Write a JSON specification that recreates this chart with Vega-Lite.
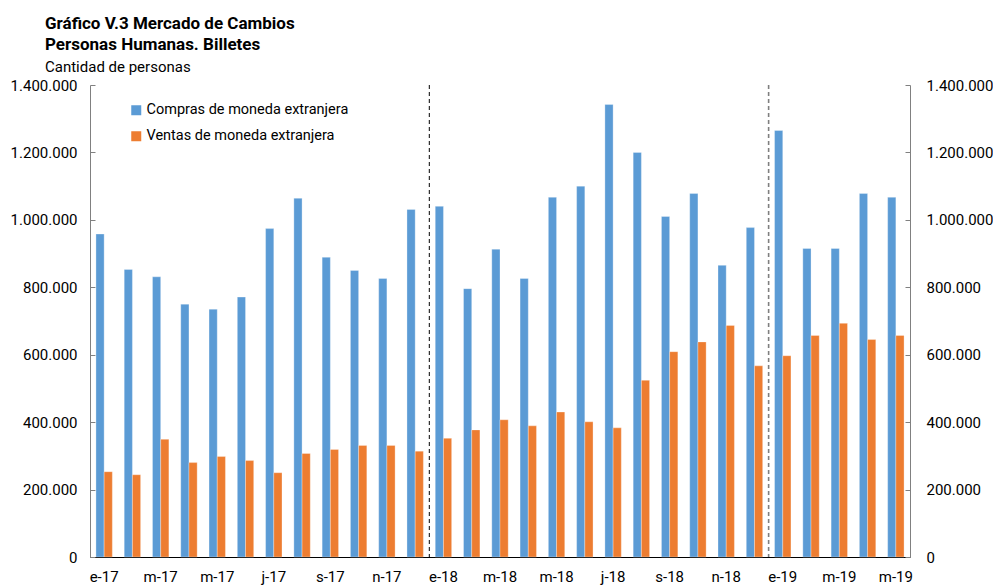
{
  "$schema": "https://vega.github.io/schema/vega-lite/v6.json",
  "width": 820,
  "height": 472,
  "autosize": {"type": "none"},
  "padding": {"left": 90, "top": 85, "right": 83, "bottom": 29},
  "background": "white",
  "title": {
    "text": ["Gráfico V.3 Mercado de Cambios", "Personas Humanas. Billetes"],
    "subtitle": "Cantidad de personas",
    "anchor": "start",
    "frame": "group",
    "dx": -45,
    "offset": 2,
    "font": "Roboto",
    "fontSize": 17,
    "fontWeight": "bold",
    "lineHeight": 21,
    "color": "#000000",
    "subtitleFont": "Roboto",
    "subtitleFontSize": 15,
    "subtitleColor": "#000000",
    "subtitlePadding": 6
  },
  "config": {
    "locale": {"number": {"decimal": ",", "thousands": ".", "grouping": [3], "currency": ["$", ""]}},
    "view": {"stroke": null},
    "font": "Roboto",
    "axis": {"labelFont": "Roboto", "labelFontSize": 15, "labelColor": "#000000", "grid": false, "title": null}
  },
  "datasets": {
    "meses": [
      {"fecha": "2017-01", "Compras de moneda extranjera": 958000, "Ventas de moneda extranjera": 253000},
      {"fecha": "2017-02", "Compras de moneda extranjera": 853000, "Ventas de moneda extranjera": 244000},
      {"fecha": "2017-03", "Compras de moneda extranjera": 831000, "Ventas de moneda extranjera": 349000},
      {"fecha": "2017-04", "Compras de moneda extranjera": 750000, "Ventas de moneda extranjera": 280000},
      {"fecha": "2017-05", "Compras de moneda extranjera": 735000, "Ventas de moneda extranjera": 298000},
      {"fecha": "2017-06", "Compras de moneda extranjera": 771000, "Ventas de moneda extranjera": 286000},
      {"fecha": "2017-07", "Compras de moneda extranjera": 974000, "Ventas de moneda extranjera": 250000},
      {"fecha": "2017-08", "Compras de moneda extranjera": 1064000, "Ventas de moneda extranjera": 307000},
      {"fecha": "2017-09", "Compras de moneda extranjera": 889000, "Ventas de moneda extranjera": 319000},
      {"fecha": "2017-10", "Compras de moneda extranjera": 850000, "Ventas de moneda extranjera": 331000},
      {"fecha": "2017-11", "Compras de moneda extranjera": 826000, "Ventas de moneda extranjera": 331000},
      {"fecha": "2017-12", "Compras de moneda extranjera": 1031000, "Ventas de moneda extranjera": 314000},
      {"fecha": "2018-01", "Compras de moneda extranjera": 1040000, "Ventas de moneda extranjera": 352000},
      {"fecha": "2018-02", "Compras de moneda extranjera": 796000, "Ventas de moneda extranjera": 377000},
      {"fecha": "2018-03", "Compras de moneda extranjera": 913000, "Ventas de moneda extranjera": 407000},
      {"fecha": "2018-04", "Compras de moneda extranjera": 826000, "Ventas de moneda extranjera": 389000},
      {"fecha": "2018-05", "Compras de moneda extranjera": 1067000, "Ventas de moneda extranjera": 430000},
      {"fecha": "2018-06", "Compras de moneda extranjera": 1100000, "Ventas de moneda extranjera": 401000},
      {"fecha": "2018-07", "Compras de moneda extranjera": 1342000, "Ventas de moneda extranjera": 383000},
      {"fecha": "2018-08", "Compras de moneda extranjera": 1200000, "Ventas de moneda extranjera": 524000},
      {"fecha": "2018-09", "Compras de moneda extranjera": 1010000, "Ventas de moneda extranjera": 609000},
      {"fecha": "2018-10", "Compras de moneda extranjera": 1078000, "Ventas de moneda extranjera": 638000},
      {"fecha": "2018-11", "Compras de moneda extranjera": 865000, "Ventas de moneda extranjera": 687000},
      {"fecha": "2018-12", "Compras de moneda extranjera": 977000, "Ventas de moneda extranjera": 567000},
      {"fecha": "2019-01", "Compras de moneda extranjera": 1265000, "Ventas de moneda extranjera": 597000},
      {"fecha": "2019-02", "Compras de moneda extranjera": 915000, "Ventas de moneda extranjera": 657000},
      {"fecha": "2019-03", "Compras de moneda extranjera": 915000, "Ventas de moneda extranjera": 693000},
      {"fecha": "2019-04", "Compras de moneda extranjera": 1078000, "Ventas de moneda extranjera": 645000},
      {"fecha": "2019-05", "Compras de moneda extranjera": 1067000, "Ventas de moneda extranjera": 657000}
    ],
    "corte1": [{"fecha": "2018-01"}],
    "corte2": [{"fecha": "2019-01"}]
  },
  "encoding": {
    "x": {
      "field": "fecha",
      "type": "ordinal",
      "scale": {"paddingInner": 0.42, "paddingOuter": 0.21},
      "axis": {
        "labelAngle": 0,
        "tickSize": 0,
        "labelPadding": 12,
        "domainColor": "#000000",
        "domainWidth": 1,
        "labelExpr": "(toNumber(slice(datum.value,5,7)) % 2 == 1) ? (['e','f','m','a','m','j','j','a','s','o','n','d'][toNumber(slice(datum.value,5,7))-1] + '-' + slice(datum.value,2,4)) : ''"
      }
    }
  },
  "layer": [
    {
      "data": {"name": "meses"},
      "transform": [{"fold": ["Compras de moneda extranjera", "Ventas de moneda extranjera"], "as": ["serie", "valor"]}],
      "mark": {"type": "bar", "stroke": "#ffffff", "strokeOpacity": 0.5, "strokeWidth": 0.6},
      "encoding": {
        "xOffset": {"field": "serie", "type": "nominal", "sort": ["Compras de moneda extranjera", "Ventas de moneda extranjera"]},
        "y": {
          "field": "valor",
          "type": "quantitative",
          "scale": {"domain": [0, 1400000], "nice": false},
          "axis": {
            "orient": "left",
            "values": [0, 200000, 400000, 600000, 800000, 1000000, 1200000, 1400000],
            "format": ",d",
            "tickSize": -5,
            "labelPadding": 18,
            "domainColor": "#808080",
            "tickColor": "#808080"
          }
        },
        "color": {
          "field": "serie",
          "type": "nominal",
          "scale": {"domain": ["Compras de moneda extranjera", "Ventas de moneda extranjera"], "range": ["#5B9BD5", "#ED7D31"]},
          "legend": {
            "title": null,
            "orient": "none",
            "legendX": 39,
            "legendY": 18,
            "symbolType": "square",
            "symbolSize": 100,
            "symbolStrokeWidth": 0,
            "labelFont": "Roboto",
            "labelFontSize": 14.5,
            "labelLimit": 400,
            "labelColor": "#000000",
            "labelOffset": 3,
            "rowPadding": 11
          }
        }
      }
    },
    {
      "data": {"name": "meses"},
      "mark": {"type": "point", "opacity": 0},
      "encoding": {
        "y": {
          "field": "Compras de moneda extranjera",
          "type": "quantitative",
          "axis": {
            "orient": "right",
            "values": [0, 200000, 400000, 600000, 800000, 1000000, 1200000, 1400000],
            "format": ",d",
            "tickSize": -5,
            "labelPadding": 21,
            "domainColor": "#808080",
            "tickColor": "#808080"
          }
        }
      }
    },
    {
      "data": {"name": "corte1"},
      "mark": {"type": "rule", "color": "#000000", "strokeWidth": 1, "strokeDash": [4, 3]},
      "encoding": {"x": {"field": "fecha", "type": "ordinal", "bandPosition": -0.362}}
    },
    {
      "data": {"name": "corte2"},
      "mark": {"type": "rule", "color": "#7f7f7f", "strokeWidth": 1.6, "strokeDash": [4, 3]},
      "encoding": {"x": {"field": "fecha", "type": "ordinal", "bandPosition": -0.362}}
    }
  ],
  "resolve": {"axis": {"y": "independent"}}
}
